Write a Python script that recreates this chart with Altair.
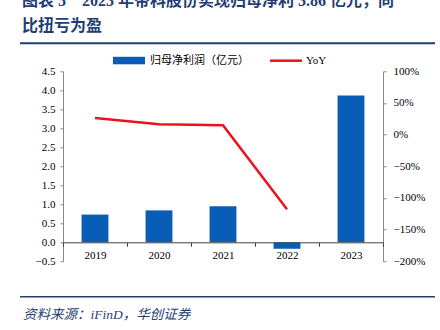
import altair as alt
import pandas as pd

# ---- data ----
years = ['2019', '2020', '2021', '2022', '2023']
profit = [0.73, 0.84, 0.95, -0.17, 3.86]          # 归母净利润（亿元）
yoy = [0.264, 0.164, 0.148, -1.178, None]         # YoY
left_ticks = [-0.5, 0.0, 0.5, 1.0, 1.5, 2.0, 2.5, 3.0, 3.5, 4.0, 4.5]
right_ticks = [-2.0, -1.5, -1.0, -0.5, 0.0, 0.5, 1.0]

title_line1 = '图表 5\u00a0\u00a0\u00a0 2023 年帝科股份实现归母净利 3.86 亿元，同'
title_line2 = '比扭亏为盈'
source_text = '资料来源：iFinD，华创证券'
legend_bar = '归母净利润（亿元）'
legend_line = 'YoY'

BLUE = '#0A5DB5'
RED = '#E8131C'
NAVY = '#1F3E74'
SERIF = 'Liberation Serif, Noto Sans CJK SC'

df = pd.DataFrame({'year': years, 'profit': profit, 'yoy': yoy})

x_enc = alt.X('year:O',
              scale=alt.Scale(paddingInner=0, paddingOuter=0),
              axis=alt.Axis(title=None, labelAngle=0, offset=-19, tickBand='extent',
                            domainColor='#444', tickColor='#444', tickSize=4,
                            labelFont=SERIF, labelFontSize=11, labelColor='#000',
                            labelPadding=3, zindex=1))

bars = alt.Chart(df).mark_bar(color=BLUE, width=alt.RelativeBandSize(0.42)).encode(
    x=x_enc,
    y=alt.Y('profit:Q',
            scale=alt.Scale(domain=[-0.5, 4.5], nice=False, zero=False),
            axis=alt.Axis(values=left_ticks, format='.1f', title=None, grid=False,
                          domainColor='#888', tickColor='#888', tickSize=3,
                          labelPadding=5, labelFont=SERIF, labelFontSize=11,
                          labelColor='#000'))
)

line = alt.Chart(df).mark_line(color=RED, strokeWidth=2.5).encode(
    x=x_enc,
    y=alt.Y('yoy:Q',
            scale=alt.Scale(domain=[-2, 1], nice=False, zero=False),
            axis=alt.Axis(orient='right', values=right_ticks, format='.0%', title=None,
                          grid=False, domainColor='#888', tickColor='#888', tickSize=3,
                          labelPadding=7, labelFont=SERIF, labelFontSize=11,
                          labelColor='#000'))
)

def txt(s, x, y, **kw):
    return alt.Chart(pd.DataFrame({'t': [s]})).mark_text(**kw).encode(
        text='t:N', x=alt.value(x), y=alt.value(y))

def rule(x1, x2, y, color, w):
    return alt.Chart(pd.DataFrame({'a': [0]})).mark_rule(color=color, strokeWidth=w).encode(
        x=alt.value(x1), x2=alt.value(x2), y=alt.value(y))

t1 = txt(title_line1, -41, -65.8, font=SERIF, fontSize=16, fontWeight='bold', color=NAVY,
         align='left', baseline='alphabetic')
t2 = txt(title_line2, -41, -40.8, font=SERIF, fontSize=16, fontWeight='bold', color=NAVY,
         align='left', baseline='alphabetic')
top_rule = rule(-43, 372, -28, NAVY, 2)
bottom_rule = rule(-43, 372, 225.4, NAVY, 1.5)
src = txt(source_text, -40, 243.7, font=SERIF, fontSize=13.5, fontStyle='italic', color=NAVY,
          align='left', baseline='middle')

leg_rect = alt.Chart(pd.DataFrame({'a': [0]})).mark_rect(color=BLUE).encode(
    x=alt.value(50), x2=alt.value(82), y=alt.value(-14.5), y2=alt.value(-7))
leg_t1 = txt(legend_bar, 87, -10.6, font=SERIF, fontSize=11, color='#000',
             align='left', baseline='middle')
leg_line = rule(207, 239, -10.6, RED, 2.5)
leg_t2 = txt(legend_line, 243, -10.6, font=SERIF, fontSize=11, color='#000',
             align='left', baseline='middle')

chart = alt.layer(bars, line, t1, t2, top_rule, bottom_rule, src,
                  leg_rect, leg_t1, leg_line, leg_t2).resolve_scale(
    y='independent'
).properties(
    width=320, height=190,
    autosize='none',
    padding={'left': 63, 'top': 71.3, 'right': 57, 'bottom': 68.7},
    background='white'
).configure_view(stroke=None)

chart.save('out.html', embed_options={'renderer': 'svg', 'actions': False})
